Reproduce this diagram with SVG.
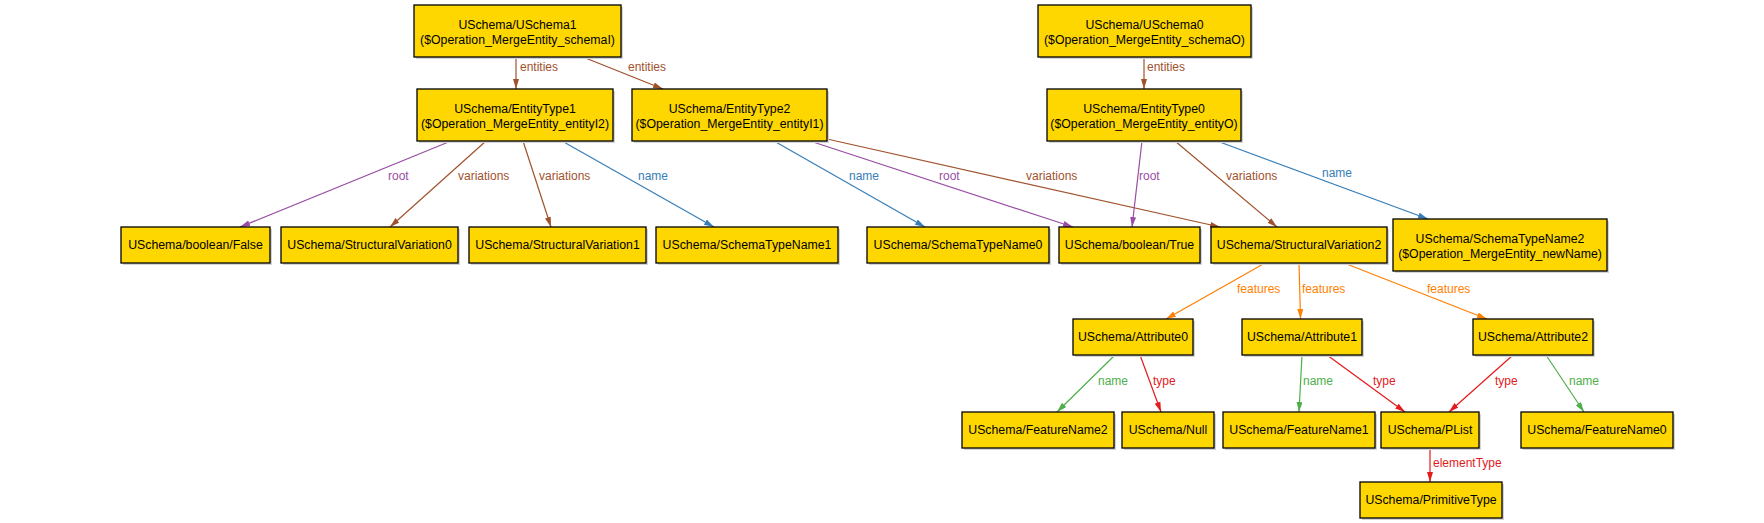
<svg xmlns="http://www.w3.org/2000/svg" width="1764" height="523" viewBox="0 0 1764 523">
<style>
.n rect.b{fill:#FFD700;stroke:#000;stroke-width:1.3}
.n rect.s{fill:#d4d4d4}
.n text{font-family:"Liberation Sans",Arial,sans-serif;font-size:12.3px;fill:#000;text-anchor:middle}
.e line{stroke-width:1.2;fill:none}
.e text{font-family:"Liberation Sans",Arial,sans-serif;font-size:12px}
.sienna line{stroke:#A0522D}.sienna text{fill:#A0522D}
.purple line{stroke:#984EA3}.purple text{fill:#984EA3}
.blue line{stroke:#377EB8}.blue text{fill:#377EB8}
.orange line{stroke:#FF7F00}.orange text{fill:#FF7F00}
.green line{stroke:#4DAF4A}.green text{fill:#4DAF4A}
.red line{stroke:#E41A1C}.red text{fill:#E41A1C}
</style>
<defs>
<marker id="aS" markerUnits="userSpaceOnUse" markerWidth="11" markerHeight="7" refX="10" refY="3" orient="auto"><path d="M0,0 L10,3 L0,6 z" fill="#A0522D"/></marker>
<marker id="aP" markerUnits="userSpaceOnUse" markerWidth="11" markerHeight="7" refX="10" refY="3" orient="auto"><path d="M0,0 L10,3 L0,6 z" fill="#984EA3"/></marker>
<marker id="aB" markerUnits="userSpaceOnUse" markerWidth="11" markerHeight="7" refX="10" refY="3" orient="auto"><path d="M0,0 L10,3 L0,6 z" fill="#377EB8"/></marker>
<marker id="aO" markerUnits="userSpaceOnUse" markerWidth="11" markerHeight="7" refX="10" refY="3" orient="auto"><path d="M0,0 L10,3 L0,6 z" fill="#FF7F00"/></marker>
<marker id="aG" markerUnits="userSpaceOnUse" markerWidth="11" markerHeight="7" refX="10" refY="3" orient="auto"><path d="M0,0 L10,3 L0,6 z" fill="#4DAF4A"/></marker>
<marker id="aR" markerUnits="userSpaceOnUse" markerWidth="11" markerHeight="7" refX="10" refY="3" orient="auto"><path d="M0,0 L10,3 L0,6 z" fill="#E41A1C"/></marker>
</defs>
<rect width="1764" height="523" fill="#fff"/>
<g id="connectors" class="e">
<g class="sienna">
<line x1="516" y1="57" x2="516" y2="89" marker-end="url(#aS)"/><text x="520" y="71">entities</text>
<line x1="583" y1="57" x2="663" y2="89" marker-end="url(#aS)"/><text x="628" y="71">entities</text>
<line x1="1144" y1="57" x2="1144" y2="89" marker-end="url(#aS)"/><text x="1147" y="71">entities</text>
<line x1="486" y1="141" x2="390" y2="227" marker-end="url(#aS)"/><text x="458" y="180">variations</text>
<line x1="523" y1="141" x2="551" y2="227" marker-end="url(#aS)"/><text x="539" y="180">variations</text>
<line x1="827" y1="139" x2="1220" y2="227" marker-end="url(#aS)"/><text x="1026" y="180">variations</text>
<line x1="1175" y1="141" x2="1277" y2="227" marker-end="url(#aS)"/><text x="1226" y="180">variations</text>
</g>
<g class="purple">
<line x1="451" y1="141" x2="240" y2="227" marker-end="url(#aP)"/><text x="388" y="180">root</text>
<line x1="810" y1="141" x2="1073" y2="227" marker-end="url(#aP)"/><text x="939" y="180">root</text>
<line x1="1142" y1="141" x2="1132" y2="227" marker-end="url(#aP)"/><text x="1139" y="180">root</text>
</g>
<g class="blue">
<line x1="562" y1="141" x2="714" y2="227" marker-end="url(#aB)"/><text x="638" y="180">name</text>
<line x1="774" y1="141" x2="925" y2="227" marker-end="url(#aB)"/><text x="849" y="180">name</text>
<line x1="1217" y1="141" x2="1428" y2="219" marker-end="url(#aB)"/><text x="1322" y="177">name</text>
</g>
<g class="orange">
<line x1="1265" y1="263" x2="1166" y2="319" marker-end="url(#aO)"/><text x="1237" y="293">features</text>
<line x1="1299" y1="263" x2="1300.5" y2="319" marker-end="url(#aO)"/><text x="1302" y="293">features</text>
<line x1="1344" y1="263" x2="1487" y2="319" marker-end="url(#aO)"/><text x="1427" y="293">features</text>
</g>
<g class="green">
<line x1="1115" y1="355" x2="1057" y2="412" marker-end="url(#aG)"/><text x="1098" y="385">name</text>
<line x1="1302" y1="355" x2="1299" y2="412" marker-end="url(#aG)"/><text x="1303" y="385">name</text>
<line x1="1546" y1="355" x2="1584" y2="412" marker-end="url(#aG)"/><text x="1569" y="385">name</text>
</g>
<g class="red">
<line x1="1140" y1="355" x2="1161" y2="412" marker-end="url(#aR)"/><text x="1153" y="385">type</text>
<line x1="1327" y1="355" x2="1405" y2="412" marker-end="url(#aR)"/><text x="1373" y="385">type</text>
<line x1="1513" y1="355" x2="1449" y2="412" marker-end="url(#aR)"/><text x="1495" y="385">type</text>
<line x1="1430" y1="448" x2="1430" y2="482" marker-end="url(#aR)"/><text x="1433" y="467">elementType</text>
</g>
</g>
<g id="USchema1" class="n"><rect class="s" x="416" y="7" width="207" height="52"/><rect class="b" x="414" y="5" width="207" height="52"/><text x="517.5" y="28.5">USchema/USchema1</text><text x="517.5" y="44">($Operation_MergeEntity_schemaI)</text></g>
<g id="USchema0" class="n"><rect class="s" x="1040" y="7" width="213" height="52"/><rect class="b" x="1038" y="5" width="213" height="52"/><text x="1144.5" y="28.5">USchema/USchema0</text><text x="1144.5" y="44">($Operation_MergeEntity_schemaO)</text></g>
<g id="EntityType1" class="n"><rect class="s" x="419" y="91" width="196" height="52"/><rect class="b" x="417" y="89" width="196" height="52"/><text x="515" y="112.5">USchema/EntityType1</text><text x="515" y="128">($Operation_MergeEntity_entityI2)</text></g>
<g id="EntityType2" class="n"><rect class="s" x="634" y="91" width="195" height="52"/><rect class="b" x="632" y="89" width="195" height="52"/><text x="729.5" y="112.5">USchema/EntityType2</text><text x="729.5" y="128">($Operation_MergeEntity_entityI1)</text></g>
<g id="EntityType0" class="n"><rect class="s" x="1049" y="91" width="194" height="52"/><rect class="b" x="1047" y="89" width="194" height="52"/><text x="1144" y="112.5">USchema/EntityType0</text><text x="1144" y="128">($Operation_MergeEntity_entityO)</text></g>
<g id="False" class="n"><rect class="s" x="123" y="229" width="149" height="36"/><rect class="b" x="121" y="227" width="149" height="36"/><text x="195.5" y="249.3">USchema/boolean/False</text></g>
<g id="StructuralVariation0" class="n"><rect class="s" x="283" y="229" width="177" height="36"/><rect class="b" x="281" y="227" width="177" height="36"/><text x="369.5" y="249.3">USchema/StructuralVariation0</text></g>
<g id="StructuralVariation1" class="n"><rect class="s" x="471" y="229" width="177" height="36"/><rect class="b" x="469" y="227" width="177" height="36"/><text x="557.5" y="249.3">USchema/StructuralVariation1</text></g>
<g id="SchemaTypeName1" class="n"><rect class="s" x="658" y="229" width="182" height="36"/><rect class="b" x="656" y="227" width="182" height="36"/><text x="747" y="249.3">USchema/SchemaTypeName1</text></g>
<g id="SchemaTypeName0" class="n"><rect class="s" x="869" y="229" width="182" height="36"/><rect class="b" x="867" y="227" width="182" height="36"/><text x="958" y="249.3">USchema/SchemaTypeName0</text></g>
<g id="True" class="n"><rect class="s" x="1061" y="229" width="141" height="36"/><rect class="b" x="1059" y="227" width="141" height="36"/><text x="1129.5" y="249.3">USchema/boolean/True</text></g>
<g id="StructuralVariation2" class="n"><rect class="s" x="1213" y="229" width="176" height="36"/><rect class="b" x="1211" y="227" width="176" height="36"/><text x="1299" y="249.3">USchema/StructuralVariation2</text></g>
<g id="SchemaTypeName2" class="n"><rect class="s" x="1395" y="221" width="214" height="52"/><rect class="b" x="1393" y="219" width="214" height="52"/><text x="1500" y="242.5">USchema/SchemaTypeName2</text><text x="1500" y="258">($Operation_MergeEntity_newName)</text></g>
<g id="Attribute0" class="n"><rect class="s" x="1075" y="321" width="120" height="36"/><rect class="b" x="1073" y="319" width="120" height="36"/><text x="1133" y="341.3">USchema/Attribute0</text></g>
<g id="Attribute1" class="n"><rect class="s" x="1244" y="321" width="120" height="36"/><rect class="b" x="1242" y="319" width="120" height="36"/><text x="1302" y="341.3">USchema/Attribute1</text></g>
<g id="Attribute2" class="n"><rect class="s" x="1475" y="321" width="120" height="36"/><rect class="b" x="1473" y="319" width="120" height="36"/><text x="1533" y="341.3">USchema/Attribute2</text></g>
<g id="FeatureName2" class="n"><rect class="s" x="964" y="414" width="152" height="36"/><rect class="b" x="962" y="412" width="152" height="36"/><text x="1038" y="434.3">USchema/FeatureName2</text></g>
<g id="Null" class="n"><rect class="s" x="1124" y="414" width="92" height="36"/><rect class="b" x="1122" y="412" width="92" height="36"/><text x="1168" y="434.3">USchema/Null</text></g>
<g id="FeatureName1" class="n"><rect class="s" x="1225" y="414" width="152" height="36"/><rect class="b" x="1223" y="412" width="152" height="36"/><text x="1299" y="434.3">USchema/FeatureName1</text></g>
<g id="PList" class="n"><rect class="s" x="1383" y="414" width="98" height="36"/><rect class="b" x="1381" y="412" width="98" height="36"/><text x="1430" y="434.3">USchema/PList</text></g>
<g id="FeatureName0" class="n"><rect class="s" x="1523" y="414" width="152" height="36"/><rect class="b" x="1521" y="412" width="152" height="36"/><text x="1597" y="434.3">USchema/FeatureName0</text></g>
<g id="PrimitiveType" class="n"><rect class="s" x="1362" y="484" width="142" height="36"/><rect class="b" x="1360" y="482" width="142" height="36"/><text x="1431" y="504.3">USchema/PrimitiveType</text></g>
</svg>
